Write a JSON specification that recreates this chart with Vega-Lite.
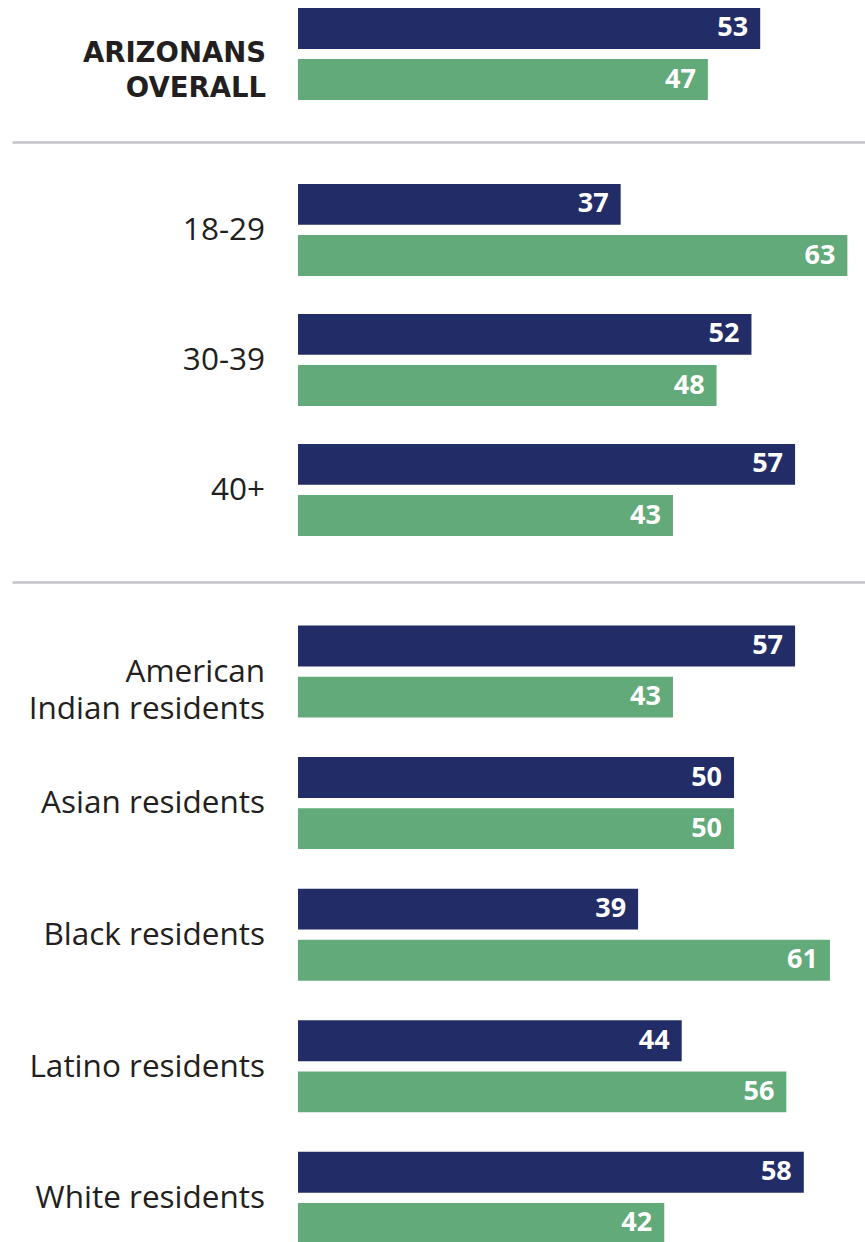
{
  "$schema": "https://vega.github.io/schema/vega-lite/v6.json",
  "padding": {"left": 12, "top": 0, "right": 0, "bottom": 0},
  "background": "white",
  "spacing": 0,
  "config": {"view": {"stroke": null}, "concat": {"spacing": 0}},
  "datasets": {
    "rows": [
      {"section": "overall", "label": "ARIZONANS\nOVERALL", "series": "A", "value": 53},
      {"section": "overall", "label": "ARIZONANS\nOVERALL", "series": "B", "value": 47},
      {"section": "age", "label": "18-29", "series": "A", "value": 37},
      {"section": "age", "label": "18-29", "series": "B", "value": 63},
      {"section": "age", "label": "30-39", "series": "A", "value": 52},
      {"section": "age", "label": "30-39", "series": "B", "value": 48},
      {"section": "age", "label": "40+", "series": "A", "value": 57},
      {"section": "age", "label": "40+", "series": "B", "value": 43},
      {"section": "race", "label": "American\nIndian residents", "series": "A", "value": 57},
      {"section": "race", "label": "American\nIndian residents", "series": "B", "value": 43},
      {"section": "race", "label": "Asian residents", "series": "A", "value": 50},
      {"section": "race", "label": "Asian residents", "series": "B", "value": 50},
      {"section": "race", "label": "Black residents", "series": "A", "value": 39},
      {"section": "race", "label": "Black residents", "series": "B", "value": 61},
      {"section": "race", "label": "Latino residents", "series": "A", "value": 44},
      {"section": "race", "label": "Latino residents", "series": "B", "value": 56},
      {"section": "race", "label": "White residents", "series": "A", "value": 58},
      {"section": "race", "label": "White residents", "series": "B", "value": 42}
    ]
  },
  "vconcat": [
    {
      "width": 853,
      "height": 142,
      "data": {"name": "rows"},
      "transform": [{"filter": "datum.section === 'overall'"}],
      "encoding": {
        "y": {"field": "label", "type": "nominal", "sort": null, "axis": null,
              "scale": {"paddingInner": 0, "paddingOuter": 0.2717, "align": 0.16}}
      },
      "layer": [
        {
          "mark": {"type": "bar"},
          "encoding": {
            "x": {"field": "value", "type": "quantitative", "axis": null,
                  "scale": {"domain": [-32.8, 65.02], "nice": false, "zero": false}},
            "yOffset": {"field": "series", "type": "nominal", "sort": ["A", "B"],
                        "scale": {"paddingInner": 0.2, "paddingOuter": 0}},
            "color": {"field": "series", "type": "nominal", "legend": null,
                      "scale": {"domain": ["A", "B"], "range": ["#222c67", "#62aa7a"]}}
          }
        },
        {
          "mark": {"type": "text", "align": "right", "baseline": "middle", "dx": -12,
                   "font": "Open Sans", "fontWeight": "bold", "fontSize": 27, "color": "white"},
          "encoding": {
            "x": {"field": "value", "type": "quantitative", "axis": null,
                  "scale": {"domain": [-32.8, 65.02], "nice": false, "zero": false}},
            "yOffset": {"field": "series", "type": "nominal", "sort": ["A", "B"],
                        "scale": {"paddingInner": 0.2, "paddingOuter": 0}},
            "text": {"field": "value", "type": "quantitative"}
          }
        },
        {
          "transform": [{"filter": "datum.series === 'A'"}],
          "mark": {"type": "text", "align": "right", "baseline": "middle", "lineBreak": "\n",
                   "lineHeight": 35, "dx": 1,
                   "font": "DejaVu Sans", "fontWeight": "bold", "fontSize": 27.5, "color": "#231f20"},
          "encoding": {
            "x": {"datum": -3.78, "type": "quantitative", "axis": null},
            "text": {"field": "label", "type": "nominal"}
          }
        }
      ]
    },
    {
      "width": 853,
      "height": 440,
      "data": {"name": "rows"},
      "transform": [{"filter": "datum.section === 'age'"}],
      "encoding": {
        "y": {"field": "label", "type": "nominal", "sort": null, "axis": null,
              "scale": {"paddingInner": 0.2769, "paddingOuter": 0.3308, "align": 0.488}}
      },
      "layer": [
        {
          "mark": {"type": "bar"},
          "encoding": {
            "x": {"field": "value", "type": "quantitative",
                  "axis": {"orient": "top", "domain": true, "domainColor": "#c4c4c8", "domainWidth": 2.5,
                           "ticks": false, "labels": false, "grid": false, "title": null},
                  "scale": {"domain": [-32.8, 65.02], "nice": false, "zero": false}},
            "yOffset": {"field": "series", "type": "nominal", "sort": ["A", "B"],
                        "scale": {"paddingInner": 0.2, "paddingOuter": 0}},
            "color": {"field": "series", "type": "nominal", "legend": null,
                      "scale": {"domain": ["A", "B"], "range": ["#222c67", "#62aa7a"]}}
          }
        },
        {
          "mark": {"type": "text", "align": "right", "baseline": "middle", "dx": -12,
                   "font": "Open Sans", "fontWeight": "bold", "fontSize": 27, "color": "white"},
          "encoding": {
            "x": {"field": "value", "type": "quantitative",
                  "axis": {"orient": "top", "domain": true, "domainColor": "#c4c4c8", "domainWidth": 2.5,
                           "ticks": false, "labels": false, "grid": false, "title": null},
                  "scale": {"domain": [-32.8, 65.02], "nice": false, "zero": false}},
            "yOffset": {"field": "series", "type": "nominal", "sort": ["A", "B"],
                        "scale": {"paddingInner": 0.2, "paddingOuter": 0}},
            "text": {"field": "value", "type": "quantitative"}
          }
        },
        {
          "transform": [{"filter": "datum.series === 'A'"}],
          "mark": {"type": "text", "align": "right", "baseline": "middle", "lineBreak": "\n",
                   "lineHeight": 36,
                   "font": "Open Sans", "fontSize": 31.5, "color": "#231f20"},
          "encoding": {
            "x": {"datum": -3.78, "type": "quantitative",
                  "axis": {"orient": "top", "domain": true, "domainColor": "#c4c4c8", "domainWidth": 2.5,
                           "ticks": false, "labels": false, "grid": false, "title": null}},
            "text": {"field": "label", "type": "nominal"}
          }
        }
      ]
    },
    {
      "width": 853,
      "height": 708,
      "data": {"name": "rows"},
      "transform": [{"filter": "datum.section === 'race'"}],
      "encoding": {
        "y": {"field": "label", "type": "nominal", "sort": null, "axis": null,
              "scale": {"paddingInner": 0.281, "paddingOuter": 0.3308, "align": 0.5}}
      },
      "layer": [
        {
          "mark": {"type": "bar"},
          "encoding": {
            "x": {"field": "value", "type": "quantitative",
                  "axis": {"orient": "top", "domain": true, "domainColor": "#c4c4c8", "domainWidth": 2.5,
                           "ticks": false, "labels": false, "grid": false, "title": null},
                  "scale": {"domain": [-32.8, 65.02], "nice": false, "zero": false}},
            "yOffset": {"field": "series", "type": "nominal", "sort": ["A", "B"],
                        "scale": {"paddingInner": 0.2, "paddingOuter": 0}},
            "color": {"field": "series", "type": "nominal", "legend": null,
                      "scale": {"domain": ["A", "B"], "range": ["#222c67", "#62aa7a"]}}
          }
        },
        {
          "mark": {"type": "text", "align": "right", "baseline": "middle", "dx": -12,
                   "font": "Open Sans", "fontWeight": "bold", "fontSize": 27, "color": "white"},
          "encoding": {
            "x": {"field": "value", "type": "quantitative",
                  "axis": {"orient": "top", "domain": true, "domainColor": "#c4c4c8", "domainWidth": 2.5,
                           "ticks": false, "labels": false, "grid": false, "title": null},
                  "scale": {"domain": [-32.8, 65.02], "nice": false, "zero": false}},
            "yOffset": {"field": "series", "type": "nominal", "sort": ["A", "B"],
                        "scale": {"paddingInner": 0.2, "paddingOuter": 0}},
            "text": {"field": "value", "type": "quantitative"}
          }
        },
        {
          "transform": [{"filter": "datum.series === 'A'"}],
          "mark": {"type": "text", "align": "right", "baseline": "middle", "lineBreak": "\n",
                   "lineHeight": 37,
                   "font": "Open Sans", "fontSize": 31.5, "color": "#231f20"},
          "encoding": {
            "x": {"datum": -3.78, "type": "quantitative",
                  "axis": {"orient": "top", "domain": true, "domainColor": "#c4c4c8", "domainWidth": 2.5,
                           "ticks": false, "labels": false, "grid": false, "title": null}},
            "text": {"field": "label", "type": "nominal"}
          }
        }
      ]
    }
  ]
}
